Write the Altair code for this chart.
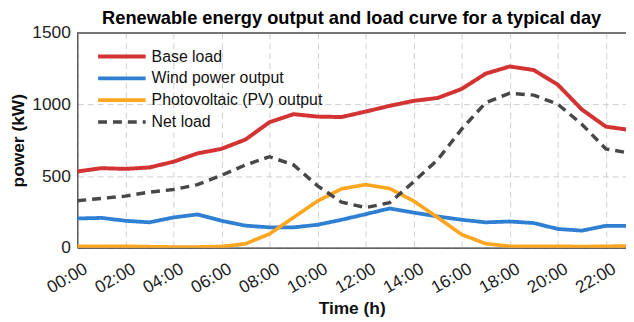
import altair as alt
import pandas as pd

hours = list(range(24))
base_load = [532, 555, 550, 560, 600, 658, 690, 755, 876, 932, 915, 912, 950, 990, 1025, 1045, 1108, 1215, 1265, 1240, 1138, 965, 845, 822]
wind = [204, 208, 188, 177, 211, 232, 188, 154, 142, 142, 160, 195, 234, 274, 245, 218, 195, 177, 183, 172, 131, 119, 153, 153]
pv = [10, 10, 10, 7, 5, 5, 8, 27, 96, 211, 326, 411, 440, 413, 326, 211, 92, 28, 10, 10, 10, 8, 10, 12]
net_load = [328, 344, 360, 388, 406, 440, 505, 578, 635, 578, 432, 318, 280, 314, 460, 614, 828, 1012, 1078, 1065, 1002, 862, 690, 660]

series_names = [" Base load", "Wind power output", "Photovoltaic (PV) output", "Net load"]
series_colors = ["#D43333", "#2F7FD3", "#FFA51F", "#474747"]
series_dash = [[1, 0], [1, 0], [1, 0], [9, 6]]
series_width = [4, 3.5, 3.5, 3]

values = [base_load, wind, pv, net_load]
rows = []
for name, vals in zip(series_names, values):
    for h, v in zip(hours, vals):
        rows.append({"hour": h, "power": v, "series": name})
df = pd.DataFrame(rows)

FONT = "Liberation Sans"
W, H = 554, 217

xscale = alt.Scale(domain=[0, 22.84], nice=False, zero=False)
yscale = alt.Scale(domain=[0, 1500], nice=False)

legend = alt.Legend(title=None, orient="none", legendX=35, legendY=14, padding=0,
                    symbolType="M-3,0H3", symbolSize=256,
                    symbolStrokeWidth=4, labelOffset=20, labelLimit=400,
                    rowPadding=4, labelFontSize=16, labelFont=FONT,
                    labelColor="#111111")

lines = alt.Chart(df).mark_line(clip=True).encode(
    x=alt.X("hour:Q", scale=xscale,
            axis=alt.Axis(values=list(range(0, 24, 2)),
                          labelExpr="(datum.value < 10 ? '0' : '') + datum.value + ':00'",
                          labelAngle=-30, labelAlign="right", labelBaseline="top",
                          labelPadding=12, labelOffset=4,
                          title="Time (h)", titleY=61, titleBaseline="middle",
                          grid=True, gridDash=[6, 4], gridColor="#cfcfcf",
                          ticks=False, domainColor="#333333", domainWidth=1.2)),
    y=alt.Y("power:Q", scale=yscale,
            axis=alt.Axis(values=[0, 500, 1000, 1500], format="d", title="power (kW)",
                          titleX=-59, titleBaseline="middle",
                          grid=True, gridDash=[6, 4], gridColor="#cfcfcf",
                          ticks=False, labelPadding=7,
                          domainColor="#333333", domainWidth=1.2)),
    color=alt.Color("series:N", scale=alt.Scale(domain=series_names, range=series_colors),
                    legend=legend),
    strokeDash=alt.StrokeDash("series:N", scale=alt.Scale(domain=series_names, range=series_dash),
                              legend=legend),
    strokeWidth=alt.StrokeWidth("series:N", scale=alt.Scale(domain=series_names, range=series_width),
                                legend=None),
)

top_border = alt.Chart(df).mark_rule(color="#777777", strokeWidth=1).encode(
    x=alt.value(0), x2=alt.value(W), y=alt.value(0),
)

chart = alt.layer(lines, top_border).properties(
    width=W, height=H,
    title=alt.TitleParams("Renewable energy output and load curve for a typical day",
                          font=FONT, fontSize=18.4, fontWeight="bold", color="#000000",
                          anchor="middle", frame="group", baseline="bottom", offset=0, dy=23),
    autosize=alt.AutoSizeParams(type="none"),
    padding={"left": 70, "top": 23.5, "right": 0, "bottom": 75},
).configure_view(stroke=None).configure_axis(
    labelFont=FONT, labelFontSize=17.5, labelColor="#222222",
    titleFont=FONT, titleFontSize=17.5, titleFontWeight="bold", titleColor="#111111",
)

chart.save("out.html", embed_options={"renderer": "svg", "actions": False})
